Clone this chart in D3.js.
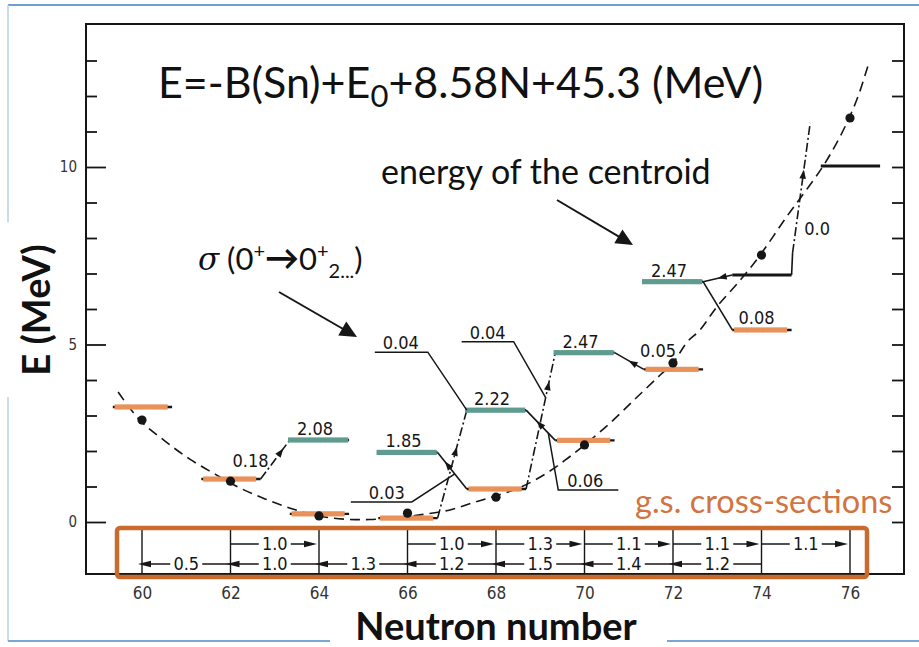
<!DOCTYPE html>
<html>
<head>
<meta charset="utf-8">
<script src="https://cdn.jsdelivr.net/npm/d3@7/dist/d3.min.js"></script>
<style>
  html, body { margin: 0; padding: 0; background: #fff; }
  svg { display: block; }
</style>
</head>
<body>
<svg id="chart" width="919" height="647"></svg>
<script>
// ---- Sn isotopes: 0+ levels on the common energy scale (MeV) ----
const isotopeN  = [60, 62, 64, 66, 68, 70, 72, 74, 76];
const groundE   = [3.24, 1.21, 0.23, 0.11, 0.93, 2.30, 4.30, 5.41, 10.03];
const excitedN  = [64, 66, 68, 70, 72];
const excitedEx = [2.08, 1.85, 2.22, 2.47, 2.47];   // excitation above the g.s.
const upperN    = [74];
const upperE    = [6.96];

// centroid energies (filled dots)
const centroidN = [60, 62, 64, 66, 68, 70, 72, 74, 76];
const centroidE = [2.87, 1.15, 0.17, 0.25, 0.70, 2.17, 4.48, 7.52, 11.38];

// dashed trend line through the centroids
const trendN = [59.46, 59.95, 60.52, 61.08, 61.65, 62.21, 62.78, 63.35, 63.98, 64.59, 65.15,
                65.72, 66.28, 66.96, 67.50, 67.95, 68.54, 69.11, 69.56, 69.97, 70.58, 71.19,
                71.71, 72.00, 72.32, 72.61, 72.99, 73.51, 73.97, 74.58, 75.00, 75.39, 75.70,
                75.98, 76.20, 76.41];
const trendE    = [3.66, 2.87, 2.28, 1.77, 1.35, 0.96, 0.65, 0.39, 0.17, 0.08, 0.07,
                   0.12, 0.20, 0.34, 0.55, 0.72, 0.97, 1.35, 1.74, 2.14, 2.79, 3.52,
                   4.14, 4.48, 5.07, 5.41, 6.06, 6.80, 7.52, 8.62, 9.33, 10.02, 10.68,
                   11.38, 12.05, 12.87];

// g.s. -> g.s. cross-sections: (t,p) upper row N -> N+2, (p,t) lower row N -> N-2
const tpFrom  = [62, 66, 68, 70, 72, 74];
const tpSigma = ["1.0", "1.0", "1.3", "1.1", "1.1", "1.1"];
const ptFrom  = [62, 64, 66, 68, 70, 72, 74];
const ptSigma = ["0.5", "1.0", "1.3", "1.2", "1.5", "1.4", "1.2"];

// relative cross-sections to the excited 0+ states
const excSigma = ["0.18", "0.04", "0.03", "0.04", "0.06", "0.05", "0.08", "0.0"];

// axis ticks
const xTicks      = [60, 62, 64, 66, 68, 70, 72, 74, 76];
const yMajorTicks = [0, 5, 10];
const yMinorTicks = [1, 2, 3, 4, 6, 7, 8, 9, 11, 12, 13];

// ---------------------------------------------------------------
const svg = d3.select("#chart");
const x = d3.scaleLinear().domain([60, 76]).range([142, 850]);
const y = d3.scaleLinear().domain([0, 10]).range([522, 167]);

const frame = { left: 86, right: 904, top: 24, bottom: 574 };
const ink = "#161616";
const numFont = "'DejaVu Sans Condensed', 'DejaVu Sans', sans-serif";
const slideFont = "Lato, 'Open Sans', sans-serif";
const orange = "#E8925A", teal = "#5F9B8E", boxOrange = "#C96B2C";

const gsE = n => groundE[isotopeN.indexOf(n)];
const exE = n => gsE(n) + excitedEx[excitedN.indexOf(n)];
const upE = n => upperE[upperN.indexOf(n)];
const levelE = (kind, n) => kind === "g" ? gsE(n) : kind === "x" ? exE(n) : upE(n);
const halfL = 0.66, halfR = 0.68;
const endPt = ([kind, n, side]) =>
  [side === "L" ? x(n - halfL) : x(n + halfR), y(levelE(kind, n))];

function arrowHead(g, px, py, ang, len, half, color) {
  const c = Math.cos(ang), s = Math.sin(ang);
  const bx = px - c * len, by = py - s * len;
  g.append("path")
    .attr("d", `M${px},${py}L${bx - s * half},${by + c * half}L${bx + s * half},${by - c * half}Z`)
    .attr("fill", color || ink);
}

// ---- slide frame lines ----
const deco = svg.append("g").attr("fill", "none");
deco.append("line").attr("x1", 8).attr("x2", 919).attr("y1", 5).attr("y2", 5)
  .attr("stroke", "#6F9ED4").attr("stroke-width", 2);
deco.append("line").attr("x1", 8).attr("x2", 8).attr("y1", 5).attr("y2", 222)
  .attr("stroke", "#B7CFEC").attr("stroke-width", 1.5);
deco.append("line").attr("x1", 8).attr("x2", 8).attr("y1", 397).attr("y2", 641)
  .attr("stroke", "#B7CFEC").attr("stroke-width", 1.5);
deco.append("line").attr("x1", 8).attr("x2", 330).attr("y1", 641).attr("y2", 641)
  .attr("stroke", "#7AA6D8").attr("stroke-width", 2);
deco.append("line").attr("x1", 667).attr("x2", 919).attr("y1", 641).attr("y2", 641)
  .attr("stroke", "#7AA6D8").attr("stroke-width", 2);

// ---- plot frame and axes ----
const plot = svg.append("g");
plot.append("path")
  .attr("d", `M${frame.left},${frame.top}H${frame.right}V${frame.bottom}H${frame.left}Z`)
  .attr("fill", "none").attr("stroke", ink).attr("stroke-width", 2);

const yMajor = plot.append("g").attr("transform", `translate(${frame.left},0)`)
  .call(d3.axisLeft(y).tickValues(yMajorTicks).tickSize(-20).tickPadding(9).tickFormat(d3.format("d")));
const yMinor = plot.append("g").attr("transform", `translate(${frame.left},0)`)
  .call(d3.axisLeft(y).tickValues(yMinorTicks).tickSize(-11).tickFormat(""));
const yRight = plot.append("g").attr("transform", `translate(${frame.right},0)`)
  .call(d3.axisRight(y).tickValues(d3.range(0, 14)).tickSize(-12).tickFormat(""));
const xAxis = plot.append("g").attr("transform", `translate(0,${frame.bottom})`)
  .call(d3.axisBottom(x).tickValues(xTicks).tickSize(0).tickPadding(13).tickFormat(d3.format("d")));

[yMajor, yMinor, yRight, xAxis].forEach(a => {
  a.select(".domain").remove();
  a.selectAll(".tick line").attr("stroke", ink).attr("stroke-width", 1.8);
  a.selectAll(".tick text").attr("fill", "#333").attr("font-family", numFont);
});
yMajor.selectAll(".tick text").attr("font-size", 15);
xAxis.selectAll(".tick text").attr("font-size", 17);

// ---- g.s. cross-section box ----
const rowUp = 544, rowDn = 564;
const box = svg.append("g");
box.selectAll("line.iso").data(isotopeN).join("line")
  .attr("x1", d => x(d)).attr("x2", d => x(d))
  .attr("y1", 526).attr("y2", frame.bottom)
  .attr("stroke", ink).attr("stroke-width", 1.4);

function sigmaArrow(from, to, rowY, label) {
  const x0 = x(from), x1 = x(to);
  const dir = Math.sign(x1 - x0);
  const tip = x1 - dir * (dir > 0 ? 2 : -4);
  box.append("line").attr("x1", x0).attr("x2", tip - dir * 6).attr("y1", rowY).attr("y2", rowY)
    .attr("stroke", ink).attr("stroke-width", 1.3);
  arrowHead(box, tip, rowY, dir > 0 ? 0 : Math.PI, 13, 3.2);
  const mx = (x0 + x1) / 2;
  box.append("rect").attr("x", mx - 16).attr("y", rowY - 8).attr("width", 32).attr("height", 16).attr("fill", "#fff");
  box.append("text").attr("x", mx).attr("y", rowY).attr("dy", "0.36em")
    .attr("text-anchor", "middle").attr("font-family", numFont).attr("font-size", 18)
    .attr("fill", ink).text(label);
}
tpFrom.forEach((n, i) => sigmaArrow(n, n + 2, rowUp, tpSigma[i]));
ptFrom.forEach((n, i) => sigmaArrow(n, n - 2, rowDn, ptSigma[i]));

box.append("rect")
  .attr("x", x(60) - 25).attr("y", 528)
  .attr("width", x(76) + 17 - (x(60) - 25)).attr("height", 49)
  .attr("rx", 3).attr("fill", "none").attr("stroke", boxOrange).attr("stroke-width", 4.5);

// ---- dashed trend of the centroids ----
const trend = trendN.map((n, i) => [x(n), y(trendE[i])]);
svg.append("path")
  .attr("d", d3.line().curve(d3.curveCatmullRom)(trend))
  .attr("fill", "none").attr("stroke", ink).attr("stroke-width", 1.6)
  .attr("stroke-dasharray", "10,6");

// ---- transitions to excited states ----
const tr = svg.append("g").attr("fill", "none").attr("stroke", ink).attr("stroke-width", 1.6);
const dashDot = "9,3,2,3";
const transitions = [
  { a: ["g", 62, "R"], b: ["x", 64, "L"], dash: dashDot, head: 0.78 },
  { a: ["g", 66, "R"], b: ["x", 68, "L"], dash: dashDot, head: 0.66 },
  { a: ["g", 68, "L"], b: ["x", 66, "R"], dash: null,    head: 0.75 },
  { a: ["g", 68, "R"], b: ["x", 70, "L"], dash: dashDot, head: 0.79 },
  { a: ["g", 70, "L"], b: ["x", 68, "R"], dash: null,    head: 0.64 },
  { a: ["g", 72, "L"], b: ["x", 70, "R"], dash: null,    head: 0.52 },
  { a: ["x", 72, "R"], b: ["g", 74, "L"], dash: null,    head: null },
  { a: ["u", 74, "L"], b: ["x", 72, "R"], dash: null,    head: 0.5 }
];
const heads = svg.append("g");
const lerp = (p, q, t) => [p[0] + (q[0] - p[0]) * t, p[1] + (q[1] - p[1]) * t];
const segs = transitions.map(t => {
  const p = endPt(t.a), q = endPt(t.b);
  tr.append("line").attr("x1", p[0]).attr("y1", p[1]).attr("x2", q[0]).attr("y2", q[1])
    .attr("stroke-dasharray", t.dash);
  if (t.head != null) {
    const h = lerp(p, q, t.head);
    arrowHead(heads, h[0], h[1], Math.atan2(q[1] - p[1], q[0] - p[0]), 9, 3.3);
  }
  return [p, q];
});

// 74 -> 76 branch above the upper level
const kneeE = 7.58, topN = 75.10, topE = 11.24;
const uR = endPt(["u", 74, "R"]);
tr.append("line").attr("x1", uR[0]).attr("y1", uR[1]).attr("x2", uR[0] + 1).attr("y2", y(kneeE));
const k0 = [uR[0] + 1, y(kneeE)], k1 = [x(topN), y(topE)];
tr.append("line").attr("x1", k0[0]).attr("y1", k0[1]).attr("x2", k1[0]).attr("y2", k1[1])
  .attr("stroke-dasharray", dashDot);
const kh = lerp(k0, k1, 0.64);
arrowHead(heads, kh[0], kh[1], Math.atan2(k1[1] - k0[1], k1[0] - k0[0]), 9, 3.3);

// ---- levels ----
const lv = svg.append("g");
function level(n, e, color, cl, cr, w) {
  lv.append("line").attr("x1", x(n - halfL)).attr("x2", x(n + halfR))
    .attr("y1", y(e)).attr("y2", y(e)).attr("stroke", ink).attr("stroke-width", w || 2.4);
  if (color) {
    lv.append("rect").attr("x", x(n - cl)).attr("width", x(n + cr) - x(n - cl))
      .attr("y", y(e) - 2.6).attr("height", 5.2).attr("fill", color);
  }
}
isotopeN.forEach((n, i) => n === 76
  ? level(n, groundE[i], null, 0, 0, 3)
  : level(n, groundE[i], orange, 0.62, 0.58));
excitedN.forEach(n => level(n, exE(n), teal, 0.70, 0.66));
upperN.forEach((n, i) => level(n, upperE[i], null, 0, 0, 3));

// excitation energy labels
lv.selectAll("text.ex").data(excitedN).join("text")
  .attr("x", d => x(d) - 4).attr("y", d => y(exE(d)) - 5)
  .attr("text-anchor", "middle").attr("font-family", numFont).attr("font-size", 18)
  .attr("fill", ink).text((d, i) => excitedEx[i].toFixed(2));

// centroid dots
svg.append("g").selectAll("circle").data(centroidN).join("circle")
  .attr("cx", d => x(d)).attr("cy", (d, i) => y(centroidE[i])).attr("r", 4.6)
  .attr("fill", ink);

// ---- cross-section labels on the transitions ----
const ann = svg.append("g").attr("font-family", numFont).attr("font-size", 18).attr("fill", ink)
  .attr("text-anchor", "middle");
const lead = svg.append("g").attr("fill", "none").attr("stroke", ink).attr("stroke-width", 1.5);
function leader(pts) { lead.append("path").attr("d", d3.line()(pts)); }

// 0.18 beside the 62 -> 64 arrow
ann.append("text").attr("x", segs[0][0][0] - 10).attr("y", segs[0][0][1] - 12).text(excSigma[0]);
// 0.04 to the 2.22 state
{
  const j = segs[1][1];
  const k = [j[0] - 39, j[1] - 58];
  leader([j, k, [k[0] - 53, k[1]]]);
  ann.append("text").attr("x", k[0] - 27).attr("y", k[1] - 3).text(excSigma[1]);
}
// 0.03 to the 1.85 state
{
  const j = lerp(segs[2][0], segs[2][1], 0.41);
  const k = [j[0] - 43, j[1] + 28];
  leader([j, k, [k[0] - 61, k[1]]]);
  ann.append("text").attr("x", k[0] - 25).attr("y", k[1] - 3).text(excSigma[2]);
}
// 0.04 to the upper 2.47 state
{
  const j = lerp(segs[3][0], segs[3][1], 0.67);
  const k = [j[0] - 32, j[1] - 56];
  leader([j, k, [k[0] - 52, k[1]]]);
  ann.append("text").attr("x", k[0] - 26).attr("y", k[1] - 3).text(excSigma[3]);
}
// 0.06 below the 70 -> 68 arrow
{
  const j = lerp(segs[4][0], segs[4][1], 0.24);
  const k = [j[0] + 10, j[1] + 57];
  leader([j, k, [k[0] + 60, k[1]]]);
  ann.append("text").attr("x", k[0] + 27).attr("y", k[1] - 3).text(excSigma[4]);
}
// 0.05 and 0.08 above their ground states
ann.append("text").attr("x", x(72) - 15).attr("y", y(gsE(72)) - 12).text(excSigma[5]);
ann.append("text").attr("x", x(74) - 5).attr("y", y(gsE(74)) - 6).text(excSigma[6]);
// 0.0 beside the 74 -> 76 branch
ann.append("text").attr("x", x(topN) + 7).attr("y", y(kneeE) - 18).text(excSigma[7]);

// ---- slide annotations ----
const title = svg.append("text").attr("x", 158).attr("y", 98)
  .attr("font-family", slideFont).attr("font-size", 43).attr("fill", "#111");
title.append("tspan").text("E=-B(Sn)+E");
title.append("tspan").attr("font-size", 31).attr("dy", 9).text("0");
title.append("tspan").attr("dy", -9).text("+8.58N+45.3 (MeV)");

svg.append("text").attr("x", 381).attr("y", 184)
  .attr("font-family", slideFont).attr("font-size", 34).attr("fill", "#111")
  .text("energy of the centroid");

const sig = svg.append("text").attr("x", 198).attr("y", 270)
  .attr("font-family", slideFont).attr("font-size", 31).attr("fill", "#111");
sig.append("tspan").attr("font-style", "italic").attr("font-family", "'DejaVu Serif', serif").text("σ");
sig.append("tspan").text(" (0");
sig.append("tspan").attr("font-size", 20).attr("dy", -12).text("+");
sig.append("tspan").attr("dy", 12).attr("font-weight", "bold").attr("font-size", 34).text("→");
sig.append("tspan").text("0");
sig.append("tspan").attr("font-size", 20).attr("dy", -12).text("+");
sig.append("tspan").attr("font-size", 20).attr("dy", 20).text("2...");
sig.append("tspan").attr("dy", -8).text(")");

// pointer arrows
const ptr = svg.append("g");
function pointer(p, q) {
  const ang = Math.atan2(q[1] - p[1], q[0] - p[0]);
  ptr.append("line").attr("x1", p[0]).attr("y1", p[1])
    .attr("x2", q[0] - Math.cos(ang) * 12).attr("y2", q[1] - Math.sin(ang) * 12)
    .attr("stroke", ink).attr("stroke-width", 2);
  arrowHead(ptr, q[0], q[1], ang, 17, 8);
}
pointer([557, 200], [633, 245]);
pointer([279, 292], [357, 337]);

svg.append("text").attr("x", 635).attr("y", 513)
  .attr("font-family", slideFont).attr("font-size", 32.5).attr("fill", "#D2743F")
  .text("g.s. cross-sections");

svg.append("text").attr("transform", "translate(50,310) rotate(-90)")
  .attr("text-anchor", "middle").attr("font-family", slideFont).attr("font-weight", "bold")
  .attr("font-size", 38).attr("fill", "#111").text("E (MeV)");

svg.append("text").attr("x", 496).attr("y", 640)
  .attr("text-anchor", "middle").attr("font-family", slideFont).attr("font-weight", "bold")
  .attr("font-size", 38).attr("fill", "#111").text("Neutron number");
</script>
</body>
</html>
